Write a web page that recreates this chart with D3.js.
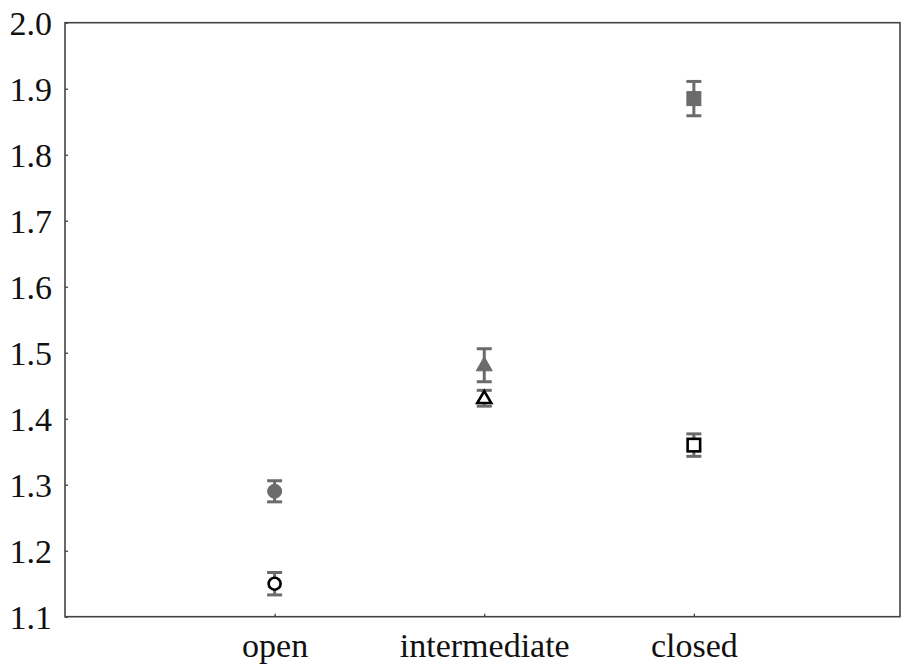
<!DOCTYPE html>
<html><head><meta charset="utf-8">
<script src="https://cdn.jsdelivr.net/npm/d3@7"></script>
<style>body{margin:0;background:#fff}svg{display:block}</style>
</head><body><svg id="c" width="907" height="667"></svg>
<script>
const categories = ["open", "intermediate", "closed"];
const shapes = ["circle", "triangle", "square"];
const filledMeans = [1.290, 1.481, 1.885];
const filledErr = [0.016, 0.025, 0.026];
const openMeans = [1.150, 1.431, 1.360];
const openErr = [0.017, 0.012, 0.017];
const yTicks = [1.1, 1.2, 1.3, 1.4, 1.5, 1.6, 1.7, 1.8, 1.9, 2.0];

const svg = d3.select("#c");
const L = 65, R = 900, T = 22.7, B = 616.7;
const x = d3.scalePoint().domain(categories).range([L, 903.5]).padding(1);
const y = d3.scaleLinear().domain([1.1, 2.0]).range([B, T]);
const font = "'Liberation Serif', 'Times New Roman', serif";
const gray = "#6b6b6b";

// y axis
const ya = svg.append("g").attr("transform", `translate(${L},0)`)
  .call(d3.axisLeft(y).tickValues(yTicks).tickFormat(d3.format(".1f")).tickSizeInner(-3).tickSizeOuter(0).tickPadding(13));
ya.select(".domain").remove();
ya.selectAll("line").attr("stroke", "#333").attr("stroke-width", 1.2);
ya.selectAll("text").attr("font-family", font).attr("font-size", 34).attr("fill", "#111").attr("dy", "0.34em");

// x axis
const xa = svg.append("g").attr("transform", `translate(0,${B})`)
  .call(d3.axisBottom(x).tickSizeInner(-3).tickSizeOuter(0).tickPadding(16));
xa.select(".domain").remove();
xa.selectAll("line").attr("stroke", "#333").attr("stroke-width", 1.2);
xa.selectAll("text").attr("font-family", font).attr("font-size", 34).attr("fill", "#111").attr("dy", "0.71em");

// frame
svg.append("rect").attr("x", L).attr("y", T).attr("width", R - L).attr("height", B - T)
  .attr("fill", "none").attr("stroke", "#444").attr("stroke-width", 1.6);

function errbar(cx, m, e) {
  const g = svg.append("g").attr("stroke", gray).attr("stroke-width", 3);
  g.append("line").attr("x1", cx).attr("x2", cx).attr("y1", y(m + e)).attr("y2", y(m - e));
  g.append("line").attr("x1", cx - 7.5).attr("x2", cx + 7.5).attr("y1", y(m + e)).attr("y2", y(m + e));
  g.append("line").attr("x1", cx - 7.5).attr("x2", cx + 7.5).attr("y1", y(m - e)).attr("y2", y(m - e));
}
function marker(shape, cx, cy, filled) {
  const fill = filled ? gray : "#fff";
  const stroke = filled ? gray : "#000";
  const sw = filled ? 1 : 2.6;
  if (shape === "circle") {
    svg.append("circle").attr("cx", cx).attr("cy", cy).attr("r", filled ? 7 : 6)
      .attr("fill", fill).attr("stroke", stroke).attr("stroke-width", sw);
  } else if (shape === "triangle") {
    const h = filled ? 14 : 12, w = filled ? 16 : 14;
    const pts = [[cx, cy - h * 0.6], [cx + w / 2, cy + h * 0.4], [cx - w / 2, cy + h * 0.4]];
    svg.append("polygon").attr("points", pts.map(p => p.join(",")).join(" "))
      .attr("fill", fill).attr("stroke", stroke).attr("stroke-width", sw).attr("stroke-linejoin", "miter");
  } else {
    const s = filled ? 14 : 12.5;
    svg.append("rect").attr("x", cx - s / 2).attr("y", cy - s / 2).attr("width", s).attr("height", s)
      .attr("fill", fill).attr("stroke", stroke).attr("stroke-width", sw);
  }
}
categories.forEach((c, i) => {
  const cx = x(c);
  errbar(cx, filledMeans[i], filledErr[i]);
  marker(shapes[i], cx, y(filledMeans[i]), true);
  errbar(cx, openMeans[i], openErr[i]);
  marker(shapes[i], cx, y(openMeans[i]), false);
});
</script></body></html>
